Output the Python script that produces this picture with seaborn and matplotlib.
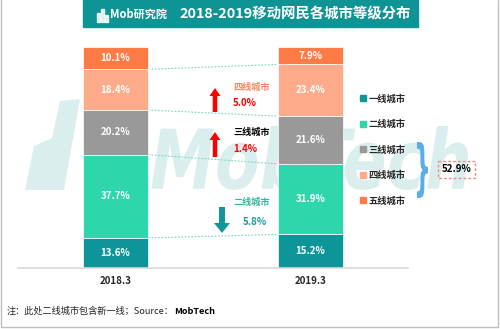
import numpy as np
import pandas as pd
import matplotlib
matplotlib.use("Agg")
import matplotlib.pyplot as plt
import seaborn as sns
from matplotlib.patches import Rectangle, FancyArrow, Polygon, PathPatch
from matplotlib.lines import Line2D
from matplotlib.textpath import TextPath
from matplotlib.font_manager import FontProperties
from matplotlib.path import Path

# ---------------- data ----------------
periods = ["2018.3", "2019.3"]
tiers = ["一线城市", "二线城市", "三线城市", "四线城市", "五线城市"]
share_2018 = [13.6, 37.7, 20.2, 18.4, 10.1]
share_2019 = [15.2, 31.9, 21.6, 23.4, 7.9]
tier_colors = ["#0E9599", "#2ED7AB", "#999999", "#FDAB8A", "#FF7B45"]

title = "2018-2019移动网民各城市等级分布"
footnote = "注：此处二线城市包含新一线；Source："
source = "MobTech"

# ---------------- style ----------------
sns.set_theme(style="white")
plt.rcParams["font.family"] = ["Noto Sans CJK SC", "DejaVu Sans"]

fig = plt.figure(figsize=(5, 3.29), dpi=100)
bg = fig.add_axes([0, 0, 1, 1], zorder=0)
bg.set_xlim(0, 500)
bg.set_ylim(329, 0)
bg.axis("off")


def place_path(text, prop, x0, x1, ytop, ybot, color, ax, zorder=1):
    tp = TextPath((0, 0), text, prop=prop)
    v = tp.vertices.copy()
    xmin, ymin = v.min(axis=0)
    xmax, ymax = v.max(axis=0)
    nx = x0 + (v[:, 0] - xmin) / (xmax - xmin) * (x1 - x0)
    ny = ybot - (v[:, 1] - ymin) / (ymax - ymin) * (ybot - ytop)
    p = Path(np.column_stack([nx, ny]), tp.codes)
    ax.add_patch(PathPatch(p, fc=color, ec="none", zorder=zorder))


# watermark
wm = "#DAEFED"
bg.add_patch(Polygon([(25, 190), (34, 146), (52, 138), (60, 101), (80, 99), (64, 190)],
                     closed=True, fc=wm, ec="none"))
place_path("MobTech", FontProperties(family="DejaVu Sans", weight="bold", style="oblique"),
           150, 468, 126, 190, wm, bg)

# banner
bg.add_patch(Rectangle((83, 0), 335, 27, color="#0E9495"))
bg.text(295, 14, title, color="white", fontsize=10.4, fontweight="bold",
        ha="center", va="center")
for (rx, ry, rw, rh) in [(97, 13, 3, 9), (101, 9, 3, 13), (105, 15, 3, 7)]:
    bg.add_patch(Rectangle((rx, ry), rw, rh, color="white", alpha=0.85))
bg.text(110, 14.5, "Mob研究院", color="white", fontsize=8, fontweight="bold",
        style="italic", ha="left", va="center")

# border
bg.plot([1, 1, 498, 498], [0, 327, 327, 0], color="#BFBFBF", lw=1)

# ---------------- bars ----------------
ax = fig.add_axes([18 / 500, 1 - 268 / 329, 390 / 500, 221 / 329], zorder=1)
ax.patch.set_alpha(0)

df = pd.DataFrame({
    "period": periods * len(tiers),
    "tier": [t for t in tiers for _ in periods],
    "share": [v for pair in zip(share_2018, share_2019) for v in pair],
})

bw = 0.334
bottom = np.zeros(len(periods))
for i, tier in enumerate(tiers):
    sub = df[df["tier"] == tier]
    sns.barplot(data=sub, x="period", y="share", bottom=bottom.copy(),
                color=tier_colors[i], saturation=1, width=bw, errorbar=None,
                edgecolor="white", linewidth=0.5, ax=ax)
    bottom += sub["share"].values

for c, tier in zip(ax.containers, tiers):
    vals = df[df["tier"] == tier]["share"].values
    ax.bar_label(c, labels=[f"{v:.1f}%" for v in vals], label_type="center",
                 color="white", fontsize=7, fontweight="bold")

# connectors
c18 = np.cumsum(share_2018)[:-1]
c19 = np.cumsum(share_2019)[:-1]
for a, b in zip(c18, c19):
    ax.plot([bw / 2, 1 - bw / 2], [a, b], color="#74D6C6", lw=0.8,
            ls=(0, (1.5, 1.5)), zorder=0)

ax.set_ylim(0, 100)
ax.set_xlim(-0.5, 1.5)
ax.set_yticks([])
ax.set_xlabel("")
ax.set_ylabel("")
for s in ["top", "left", "right"]:
    ax.spines[s].set_visible(False)
ax.spines["bottom"].set_color("#D9D9D9")
ax.spines["bottom"].set_linewidth(1.2)
ax.tick_params(axis="x", length=0, pad=6, labelsize=7)
for lab in ax.get_xticklabels():
    lab.set_fontweight("bold")

# ---------------- change annotations ----------------
d2 = share_2019[1] - share_2018[1]
d3 = share_2019[2] - share_2018[2]
d4 = share_2019[3] - share_2018[3]
bg.add_patch(FancyArrow(215, 112, 0, -24, width=4.5, head_width=11, head_length=8,
                        length_includes_head=True, color="#FF0000", lw=0))
bg.add_patch(FancyArrow(215, 157, 0, -25, width=4.5, head_width=11, head_length=8,
                        length_includes_head=True, color="#FF0000", lw=0))
bg.add_patch(FancyArrow(222, 207, 0, 26, width=6, head_width=16, head_length=10,
                        length_includes_head=True, color="#11969A", lw=0))
bg.text(233, 87, tiers[3], color="#F88A5E", fontsize=6.6, fontweight="bold", va="center")
bg.text(233, 103, f"{abs(d4):.1f}%", color="#FF0000", fontsize=7, fontweight="bold", va="center")
bg.text(233, 132, tiers[2], color="black", fontsize=6.6, fontweight="bold", va="center")
bg.text(233, 149, f"{abs(d3):.1f}%", color="#FF0000", fontsize=7, fontweight="bold", va="center")
bg.text(233, 202, tiers[1], color="#2DBB9B", fontsize=6.6, fontweight="bold", va="center")
bg.text(243, 222, f"{abs(d2):.1f}%", color="#1A9BA0", fontsize=7, fontweight="bold", va="center")

# ---------------- legend ----------------
handles = [Line2D([], [], marker="s", ls="none", color=c, markersize=5) for c in tier_colors]
fig.legend(handles, tiers, loc="upper left", bbox_to_anchor=(358 / 500, 1 - 94 / 329),
           frameon=False, prop={"size": 6.7, "weight": "bold"}, labelspacing=1.72,
           handletextpad=0.1, handlelength=1.0, borderpad=0, borderaxespad=0)

# brace + total
total_low = sum(share_2019[2:])
place_path("}", FontProperties(family="DejaVu Sans", weight="bold"),
           414, 428, 142, 198, "#5AAEE8", bg, zorder=2)
bg.add_patch(Rectangle((438, 161), 37, 17, fill=False, ec="#F08A8A", lw=1,
                       ls=(0, (2, 1.5))))
bg.text(456.5, 169.5, f"{total_low:.1f}%", fontsize=7, fontweight="bold",
        ha="center", va="center", color="black")

# ---------------- footnote ----------------
t1 = bg.text(7, 311, footnote, fontsize=6.6, va="center", ha="left", color="#222222")
bg.annotate(source, xy=(1, 0.5), xycoords=t1, fontsize=6.6, fontweight="bold",
            va="center", ha="left", color="black")

fig.savefig("out.png", dpi=100)
